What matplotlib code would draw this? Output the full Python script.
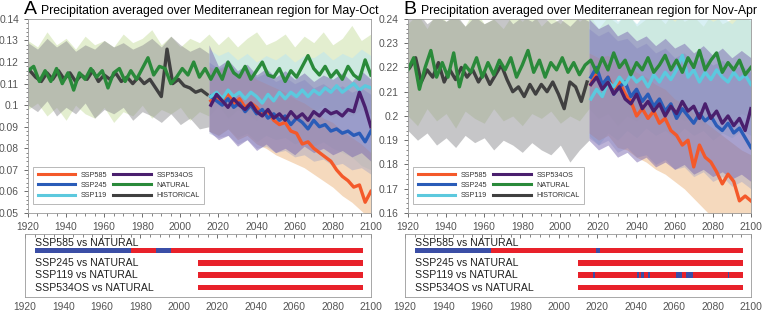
import matplotlib
matplotlib.use("Agg")
import matplotlib.pyplot as plt
import numpy as np
from matplotlib.ticker import MultipleLocator

plt.rcParams['font.family'] = ['Liberation Sans', 'DejaVu Sans']

# years
yrs_nat = np.arange(1920, 2101, 3)
yrs_hist = np.arange(1921, 2016, 3)
yrs_ssp = np.arange(2016, 2101, 3)
band_nat = np.arange(1920, 2101, 5)
band_hist = np.arange(1920, 2016, 5)
band_ssp = np.arange(2015, 2101, 5)

# ---- panel A, May-Oct ----
nat_a = [0.116, 0.118, 0.111, 0.116, 0.111, 0.117, 0.110, 0.115, 0.107, 0.115,
         0.112, 0.117, 0.113, 0.116, 0.108, 0.115, 0.117, 0.111, 0.116, 0.112,
         0.117, 0.122, 0.114, 0.118, 0.117, 0.110, 0.113, 0.117, 0.114, 0.120,
         0.113, 0.117, 0.112, 0.117, 0.112, 0.120, 0.115, 0.113, 0.118, 0.112,
         0.116, 0.120, 0.114, 0.113, 0.117, 0.111, 0.116, 0.113, 0.118, 0.123,
         0.117, 0.114, 0.118, 0.113, 0.116, 0.112, 0.118, 0.114, 0.112, 0.121,
         0.114]
hist_a = [0.116, 0.113, 0.111, 0.115, 0.112, 0.116, 0.112, 0.115, 0.111, 0.114,
          0.112, 0.116, 0.111, 0.114, 0.112, 0.115, 0.111, 0.113, 0.110, 0.113,
          0.110, 0.112, 0.108, 0.104, 0.126, 0.110, 0.112, 0.109, 0.108, 0.106,
          0.107, 0.105]
ssp585_a = [0.102, 0.104, 0.101, 0.106, 0.100, 0.103, 0.099, 0.101, 0.099, 0.096,
            0.097, 0.093, 0.091, 0.092, 0.088, 0.087, 0.082, 0.083, 0.080, 0.078,
            0.076, 0.074, 0.070, 0.067, 0.065, 0.062, 0.063, 0.055, 0.060]
ssp245_a = [0.104, 0.102, 0.100, 0.103, 0.099, 0.101, 0.097, 0.100, 0.096, 0.098,
            0.094, 0.096, 0.093, 0.095, 0.091, 0.094, 0.092, 0.089, 0.093, 0.090,
            0.091, 0.088, 0.089, 0.087, 0.088, 0.086, 0.087, 0.083, 0.088]
ssp119_a = [0.104, 0.106, 0.103, 0.107, 0.104, 0.106, 0.103, 0.106, 0.104, 0.101,
            0.105, 0.102, 0.106, 0.103, 0.106, 0.104, 0.107, 0.104, 0.107, 0.105,
            0.108, 0.106, 0.109, 0.106, 0.108, 0.110, 0.107, 0.109, 0.108]
ssp534_a = [0.100, 0.105, 0.102, 0.099, 0.103, 0.100, 0.098, 0.101, 0.097, 0.095,
            0.098, 0.094, 0.096, 0.093, 0.097, 0.094, 0.096, 0.093, 0.097, 0.095,
            0.098, 0.096, 0.097, 0.095, 0.098, 0.097, 0.106, 0.099, 0.090]

nat_hi_a = [0.130, 0.127, 0.134, 0.128, 0.131, 0.126, 0.132, 0.128, 0.130, 0.127,
            0.133, 0.129, 0.131, 0.135, 0.128, 0.132, 0.127, 0.131, 0.129, 0.133,
            0.128, 0.132, 0.127, 0.131, 0.134, 0.128, 0.130, 0.133, 0.127, 0.132,
            0.129, 0.134, 0.128, 0.131, 0.137, 0.130, 0.133]
nat_lo_a = [0.098, 0.101, 0.095, 0.099, 0.093, 0.100, 0.096, 0.094, 0.099, 0.092,
            0.097, 0.095, 0.100, 0.094, 0.098, 0.096, 0.099, 0.093, 0.097, 0.095,
            0.100, 0.094, 0.098, 0.096, 0.093, 0.099, 0.095, 0.097, 0.094, 0.098,
            0.096, 0.100, 0.094, 0.097, 0.095, 0.098, 0.096]
hist_hi_a = [0.129, 0.126, 0.131, 0.127, 0.130, 0.125, 0.128, 0.126, 0.130, 0.127,
             0.129, 0.126, 0.128, 0.131, 0.127, 0.132, 0.128, 0.125, 0.127, 0.124]
hist_lo_a = [0.100, 0.097, 0.102, 0.095, 0.099, 0.096, 0.101, 0.094, 0.098, 0.096,
             0.099, 0.093, 0.097, 0.095, 0.092, 0.096, 0.091, 0.094, 0.089, 0.090]
ssp585_hi_a = [0.118, 0.116, 0.119, 0.114, 0.116, 0.112, 0.110, 0.108, 0.106,
               0.103, 0.101, 0.098, 0.094, 0.092, 0.088, 0.085, 0.082, 0.078]
ssp585_lo_a = [0.088, 0.086, 0.089, 0.084, 0.086, 0.082, 0.080, 0.077, 0.075,
               0.073, 0.071, 0.068, 0.065, 0.062, 0.058, 0.055, 0.051, 0.047]
ssp534_hi_a = [0.128, 0.118, 0.121, 0.116, 0.119, 0.114, 0.117, 0.113, 0.116,
               0.112, 0.115, 0.111, 0.114, 0.112, 0.115, 0.111, 0.116, 0.112]
ssp534_lo_a = [0.088, 0.084, 0.086, 0.081, 0.084, 0.079, 0.082, 0.078, 0.080,
               0.077, 0.081, 0.078, 0.080, 0.077, 0.079, 0.076, 0.078, 0.074]
ssp245_hi_a = [0.120, 0.117, 0.119, 0.115, 0.117, 0.113, 0.115, 0.111, 0.113,
               0.110, 0.112, 0.108, 0.110, 0.107, 0.109, 0.106, 0.108, 0.105]
ssp245_lo_a = [0.087, 0.085, 0.086, 0.082, 0.084, 0.080, 0.081, 0.078, 0.079,
               0.076, 0.077, 0.074, 0.075, 0.072, 0.073, 0.070, 0.071, 0.068]
ssp119_hi_a = [0.126, 0.123, 0.125, 0.121, 0.124, 0.120, 0.123, 0.121, 0.124,
               0.120, 0.123, 0.122, 0.125, 0.121, 0.124, 0.122, 0.126, 0.123]
ssp119_lo_a = [0.088, 0.086, 0.089, 0.085, 0.087, 0.083, 0.086, 0.084, 0.085,
               0.082, 0.084, 0.081, 0.083, 0.080, 0.078, 0.076, 0.072, 0.070]

# ---- panel B, Nov-Apr ----
nat_b = [0.219, 0.224, 0.211, 0.220, 0.227, 0.216, 0.222, 0.216, 0.226, 0.212,
         0.221, 0.218, 0.224, 0.216, 0.222, 0.217, 0.223, 0.219, 0.224, 0.216,
         0.221, 0.227, 0.218, 0.223, 0.216, 0.222, 0.219, 0.224, 0.218, 0.222,
         0.217, 0.221, 0.223, 0.218, 0.224, 0.219, 0.226, 0.220, 0.223, 0.217,
         0.222, 0.219, 0.224, 0.218, 0.221, 0.225, 0.219, 0.223, 0.218, 0.224,
         0.220, 0.227, 0.219, 0.223, 0.226, 0.218, 0.222, 0.219, 0.223, 0.217,
         0.220]
hist_b = [0.220, 0.224, 0.214, 0.219, 0.216, 0.222, 0.214, 0.219, 0.215, 0.220,
          0.216, 0.219, 0.214, 0.218, 0.213, 0.217, 0.221, 0.215, 0.210, 0.212,
          0.208, 0.213, 0.209, 0.213, 0.210, 0.214, 0.209, 0.203, 0.214, 0.212,
          0.206, 0.214]
ssp585_b = [0.213, 0.218, 0.212, 0.216, 0.211, 0.214, 0.209, 0.206, 0.200, 0.203,
            0.199, 0.202, 0.197, 0.199, 0.194, 0.192, 0.188, 0.190, 0.179, 0.188,
            0.183, 0.181, 0.177, 0.172, 0.176, 0.173, 0.165, 0.167, 0.165]
ssp245_b = [0.216, 0.220, 0.213, 0.216, 0.209, 0.212, 0.214, 0.208, 0.211, 0.206,
            0.209, 0.204, 0.207, 0.202, 0.205, 0.199, 0.203, 0.200, 0.197, 0.201,
            0.198, 0.200, 0.196, 0.194, 0.197, 0.193, 0.195, 0.191, 0.187]
ssp119_b = [0.207, 0.211, 0.208, 0.214, 0.212, 0.216, 0.213, 0.217, 0.214, 0.216,
            0.212, 0.217, 0.214, 0.218, 0.215, 0.219, 0.225, 0.216, 0.219, 0.214,
            0.218, 0.215, 0.219, 0.216, 0.214, 0.218, 0.215, 0.217, 0.213]
ssp534_b = [0.213, 0.216, 0.211, 0.214, 0.209, 0.212, 0.207, 0.205, 0.209, 0.203,
            0.206, 0.202, 0.205, 0.200, 0.204, 0.201, 0.206, 0.202, 0.204, 0.199,
            0.205, 0.199, 0.202, 0.197, 0.200, 0.196, 0.199, 0.194, 0.203]

nat_hi_b = [0.238, 0.242, 0.236, 0.243, 0.239, 0.241, 0.237, 0.244, 0.238, 0.240,
            0.236, 0.242, 0.239, 0.243, 0.237, 0.241, 0.238, 0.244, 0.239, 0.242,
            0.236, 0.241, 0.238, 0.243, 0.237, 0.240, 0.242, 0.238, 0.244, 0.239,
            0.241, 0.237, 0.243, 0.238, 0.240, 0.242, 0.239]
nat_lo_b = [0.200, 0.196, 0.203, 0.198, 0.201, 0.195, 0.202, 0.199, 0.197, 0.203,
            0.198, 0.200, 0.196, 0.201, 0.199, 0.202, 0.197, 0.200, 0.198, 0.203,
            0.199, 0.201, 0.196, 0.200, 0.198, 0.202, 0.199, 0.197, 0.201, 0.198,
            0.200, 0.196, 0.202, 0.199, 0.197, 0.201, 0.199]
hist_hi_b = [0.240, 0.243, 0.238, 0.241, 0.239, 0.242, 0.237, 0.241, 0.238, 0.240,
             0.243, 0.238, 0.241, 0.239, 0.242, 0.238, 0.240, 0.237, 0.241, 0.239]
hist_lo_b = [0.194, 0.190, 0.193, 0.188, 0.191, 0.187, 0.192, 0.189, 0.191, 0.186,
             0.190, 0.188, 0.185, 0.189, 0.186, 0.184, 0.188, 0.181, 0.186, 0.190]
ssp585_hi_b = [0.226, 0.224, 0.225, 0.221, 0.222, 0.218, 0.216, 0.213, 0.211,
               0.207, 0.205, 0.201, 0.198, 0.195, 0.192, 0.189, 0.186, 0.184]
ssp585_lo_b = [0.193, 0.190, 0.192, 0.187, 0.186, 0.183, 0.181, 0.178, 0.176,
               0.173, 0.170, 0.166, 0.162, 0.158, 0.155, 0.152, 0.150, 0.148]
ssp534_hi_b = [0.240, 0.236, 0.238, 0.233, 0.235, 0.231, 0.233, 0.229, 0.232,
               0.228, 0.230, 0.226, 0.229, 0.225, 0.228, 0.224, 0.227, 0.224]
ssp534_lo_b = [0.190, 0.186, 0.188, 0.183, 0.185, 0.181, 0.183, 0.179, 0.181,
               0.178, 0.180, 0.176, 0.178, 0.175, 0.177, 0.174, 0.176, 0.173]
ssp245_hi_b = [0.236, 0.233, 0.235, 0.231, 0.232, 0.228, 0.230, 0.226, 0.228,
               0.224, 0.226, 0.222, 0.224, 0.221, 0.223, 0.219, 0.221, 0.218]
ssp245_lo_b = [0.191, 0.188, 0.190, 0.185, 0.187, 0.183, 0.184, 0.180, 0.182,
               0.178, 0.179, 0.175, 0.177, 0.173, 0.175, 0.171, 0.173, 0.170]
ssp119_hi_b = [0.243, 0.240, 0.244, 0.239, 0.242, 0.238, 0.243, 0.240, 0.242,
               0.239, 0.243, 0.240, 0.242, 0.239, 0.241, 0.238, 0.242, 0.240]
ssp119_lo_b = [0.192, 0.188, 0.193, 0.190, 0.194, 0.191, 0.195, 0.192, 0.194,
               0.191, 0.195, 0.192, 0.194, 0.190, 0.193, 0.191, 0.194, 0.192]

# significance rows (red = different, blue = not)
rows = ['SSP585 vs NATURAL', 'SSP245 vs NATURAL', 'SSP119 vs NATURAL', 'SSP534OS vs NATURAL']
red_a = [(1925, 2096), (2010, 2096), (2010, 2096), (2010, 2096)]
blue_a = [[(1925, 1975), (1988, 1996)], [], [], []]
red_b = [(1925, 2096), (2010, 2096), (2010, 2096), (2010, 2096)]
blue_b = [[(1925, 1965), (2019.5, 2021.5)], [],
          [(2018, 2019), (2040.5, 2041.5), (2043, 2044.2), (2046.5, 2047.5),
           (2061, 2064), (2066, 2070), (2087.8, 2088.8)], []]

c585, c245, c119, c534 = '#f4592a', '#2a5cb8', '#5cc9de', '#4a1f6e'
cnat, chist = '#2a8a3a', '#404040'
gray = '#555555'


def style(ax):
    for s in ax.spines.values():
        s.set_color('#999999')
        s.set_linewidth(0.6)
    ax.tick_params(colors=gray, labelsize=7.4, length=3, width=0.6)
    ax.tick_params(which='minor', colors=gray, length=1.8, width=0.5)


def top_panel(ax, d, ylim, ystep, letter, title):
    ax.fill_between(band_nat, d['nat_lo'], d['nat_hi'], color='#d4e5b6', alpha=0.65, lw=0)
    ax.fill_between(band_hist, d['hist_lo'], d['hist_hi'], color='#8e8e92', alpha=0.5, lw=0)
    ax.fill_between(band_ssp, d['s119_lo'], d['s119_hi'], color='#bfe6ee', alpha=0.6, lw=0)
    ax.fill_between(band_ssp, d['s585_lo'], d['s585_hi'], color='#efc091', alpha=0.6, lw=0)
    ax.fill_between(band_ssp, d['s245_lo'], d['s245_hi'], color='#7d8cc8', alpha=0.3, lw=0)
    ax.fill_between(band_ssp, d['s534_lo'], d['s534_hi'], color='#7a68b0', alpha=0.5, lw=0)

    lw = 2.4
    ax.plot(yrs_hist, d['hist'], color=chist, lw=lw)
    ax.plot(yrs_ssp, d['s585'], color=c585, lw=lw)
    ax.plot(yrs_ssp, d['s245'], color=c245, lw=lw)
    ax.plot(yrs_ssp, d['s119'], color=c119, lw=lw)
    ax.plot(yrs_ssp, d['s534'], color=c534, lw=lw)
    ax.plot(yrs_nat, d['nat'], color=cnat, lw=lw)

    h = [plt.Line2D([], [], color=c, lw=2.2) for c in [c585, c245, c119, c534, cnat, chist]]
    lab = ['SSP585', 'SSP245', 'SSP119', 'SSP534OS', 'NATURAL', 'HISTORICAL']
    leg = ax.legend(h, lab, ncol=2, loc='lower left', bbox_to_anchor=(0.005, 0.03),
                    fontsize=5.2, frameon=True, fancybox=False, handlelength=5.2,
                    handletextpad=0.8, columnspacing=0.8, labelspacing=0.45,
                    borderpad=0.6)
    leg.get_frame().set_edgecolor('#999999')
    leg.get_frame().set_linewidth(0.6)
    for t in leg.get_texts():
        t.set_color('#333333')

    ax.set_xlim(1920, 2100)
    ax.set_ylim(*ylim)
    ax.xaxis.set_major_locator(MultipleLocator(20))
    ax.xaxis.set_minor_locator(MultipleLocator(5))
    ax.yaxis.set_major_locator(MultipleLocator(ystep))
    ax.yaxis.set_minor_locator(MultipleLocator(ystep / 5))
    ax.yaxis.set_major_formatter(plt.FuncFormatter(lambda v, p: '%g' % round(v, 3)))
    style(ax)
    ax.text(-0.012, 1.005, letter, transform=ax.transAxes, fontsize=14, va='bottom', ha='left')
    ax.text(0.037, 1.012, title, transform=ax.transAxes, fontsize=8.8, va='bottom', ha='left')


def sig_panel(ax, red, blue):
    ys = [16.7, 29, 41, 53.7]
    ty = [8.7, 29, 41, 53.7]
    for i, name in enumerate(rows):
        r0, r1 = red[i]
        ax.broken_barh([(r0, r1 - r0)], (ys[i] - 2.7, 5.4), color='#e8212a', lw=0)
        for b0, b1 in blue[i]:
            ax.broken_barh([(b0, b1 - b0)], (ys[i] - 2.7, 5.4), color='#3b4ea6', lw=0)
        ax.text(1925, ty[i], name, fontsize=7.6, va='center', ha='left', color='#222222')
    ax.set_xlim(1920, 2100)
    ax.set_ylim(63, 0)
    ax.set_yticks([])
    ax.xaxis.set_major_locator(MultipleLocator(20))
    ax.xaxis.set_minor_locator(MultipleLocator(5))
    style(ax)
    ax.tick_params(axis='x', which='both', top=True, bottom=False, direction='in',
                   labeltop=False, labelbottom=True)


da = dict(nat=nat_a, hist=hist_a, s585=ssp585_a, s245=ssp245_a, s119=ssp119_a, s534=ssp534_a,
          nat_lo=nat_lo_a, nat_hi=nat_hi_a, hist_lo=hist_lo_a, hist_hi=hist_hi_a,
          s585_lo=ssp585_lo_a, s585_hi=ssp585_hi_a, s245_lo=ssp245_lo_a, s245_hi=ssp245_hi_a,
          s119_lo=ssp119_lo_a, s119_hi=ssp119_hi_a, s534_lo=ssp534_lo_a, s534_hi=ssp534_hi_a)
db = dict(nat=nat_b, hist=hist_b, s585=ssp585_b, s245=ssp245_b, s119=ssp119_b, s534=ssp534_b,
          nat_lo=nat_lo_b, nat_hi=nat_hi_b, hist_lo=hist_lo_b, hist_hi=hist_hi_b,
          s585_lo=ssp585_lo_b, s585_hi=ssp585_hi_b, s245_lo=ssp245_lo_b, s245_hi=ssp245_hi_b,
          s119_lo=ssp119_lo_b, s119_hi=ssp119_hi_b, s534_lo=ssp534_lo_b, s534_hi=ssp534_hi_b)

fig = plt.figure(figsize=(7.62, 3.13), dpi=100)
ax1 = fig.add_axes([0.0367, 0.3195, 0.450, 0.620])
ax2 = fig.add_axes([0.5354, 0.3195, 0.450, 0.620])
ax3 = fig.add_axes([0.0328, 0.0511, 0.454, 0.2013])
ax4 = fig.add_axes([0.5315, 0.0511, 0.454, 0.2013])

top_panel(ax1, da, (0.05, 0.14), 0.01, 'A', 'Precipitation averaged over Mediterranean region for May-Oct')
top_panel(ax2, db, (0.16, 0.24), 0.01, 'B', 'Precipitation averaged over Mediterranean region for Nov-Apr')
sig_panel(ax3, red_a, blue_a)
sig_panel(ax4, red_b, blue_b)

fig.savefig('out.png', dpi=100)
